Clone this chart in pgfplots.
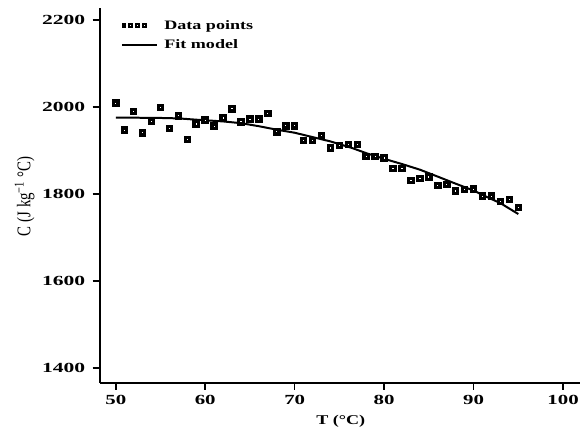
\documentclass[border=0pt]{standalone}
\usepackage{fontspec}
\setmainfont{Liberation Serif}
\usepackage{graphicx}
\usepackage{pgfplots}
\pgfplotsset{compat=1.18}
\pgfplotsset{
  datalegend/.style={legend image code/.code={\draw[##1, mark size=1.3bp, mark options={fill=white, draw=black, line width=2bp}] plot coordinates {(2bp,0bp) (8.8bp,0bp) (15.6bp,0bp) (22.4bp,0bp)}; \path[draw=none, fill=none] (0bp,0bp) rectangle (41bp,0.1bp);}},
  fitlegend/.style={legend image code/.code={\draw[##1] (0bp,0bp) -- (35bp,0bp); \path[draw=none, fill=none] (0bp,0bp) rectangle (41bp,0.1bp);}},
}
\begin{document}
\begin{tikzpicture}
\begin{axis}[
  at={(0,0)}, anchor=south west,
  scale only axis, width=482bp, height=376bp,
  xmin=48.2, xmax=101.9, ymin=1366, ymax=2228,
  axis x line=bottom, axis y line=left,
  axis line style={-, line width=2.2bp},
  xtick={50,60,...,100}, ytick={1400,1600,...,2200},
  tick align=outside, major tick length=7bp,
  tick style={line width=1.6bp, black},
  minor tick num=0,
  tick label style={font=\fontsize{14}{16}\selectfont\bfseries},
  /pgf/number format/assume math mode=true,
  /pgf/number format/1000 sep={},
  xticklabel={\scalebox{1.5}[1]{\pgfmathprintnumber{\tick}}},
  yticklabel={\scalebox{1.55}[1]{\pgfmathprintnumber{\tick}}},
  xticklabel style={yshift=-2bp},
  yticklabel style={xshift=-4bp},
  xlabel={\scalebox{1.35}[1]{T (°C)}},
  xlabel style={font=\fontsize{13.5}{15}\selectfont\bfseries, at={(axis description cs:0.502,-0.104)}, anchor=center},
  ylabel={\scalebox{1}[1.3]{C (J kg\textsuperscript{\char"2212 1} °C)}},
  ylabel style={font=\fontsize{15}{17}\selectfont, at={(axis description cs:-0.156,0.497)}, anchor=center},
  legend style={at={(axis description cs:0.044,0.971)}, anchor=north west, draw=none, fill=none,
    font=\fontsize{13}{14}\selectfont\bfseries, row sep=6bp, inner sep=0bp,
    nodes={inner sep=1.5bp}},
  legend cell align=left,
  clip=false,
]
\addplot[only marks, mark=square*, mark size=2.2bp,
  mark options={fill=white, draw=black, line width=3.2bp}, datalegend]
coordinates {
(50,2009) (51,1947) (52,1990) (53,1941) (54,1967) (55,1999) (56,1951) (57,1980)
(58,1925) (59,1961) (60,1970) (61,1956) (62,1975) (63,1996) (64,1966) (65,1972)
(66,1972) (67,1985) (68,1943) (69,1957) (70,1957) (71,1923) (72,1923) (73,1935)
(74,1906) (75,1912) (76,1914) (77,1914) (78,1886) (79,1886) (80,1883) (81,1859)
(82,1859) (83,1831) (84,1836) (85,1839) (86,1820) (87,1822) (88,1807) (89,1810)
(90,1811) (91,1795) (92,1795) (93,1783) (94,1787) (95,1769)
};
\addlegendentry{\scalebox{1.4}[1]{Data points}}
\addplot[black, line width=2bp, no marks, fitlegend]
coordinates {
(50,1976) (55,1975) (57,1974) (59,1971) (62,1967) (64,1963) (66,1956) (68,1948)
(70,1941) (72,1931) (74,1921) (76.4,1906) (78,1894) (80,1881) (82,1869) (84,1856)
(86,1840) (87.6,1827) (90,1808) (91.3,1795) (93,1779) (95,1754)
};
\addlegendentry{\scalebox{1.4}[1]{Fit model}}
\end{axis}
\path (-100bp,-53bp) rectangle (482bp,384bp);
\end{tikzpicture}
\end{document}
